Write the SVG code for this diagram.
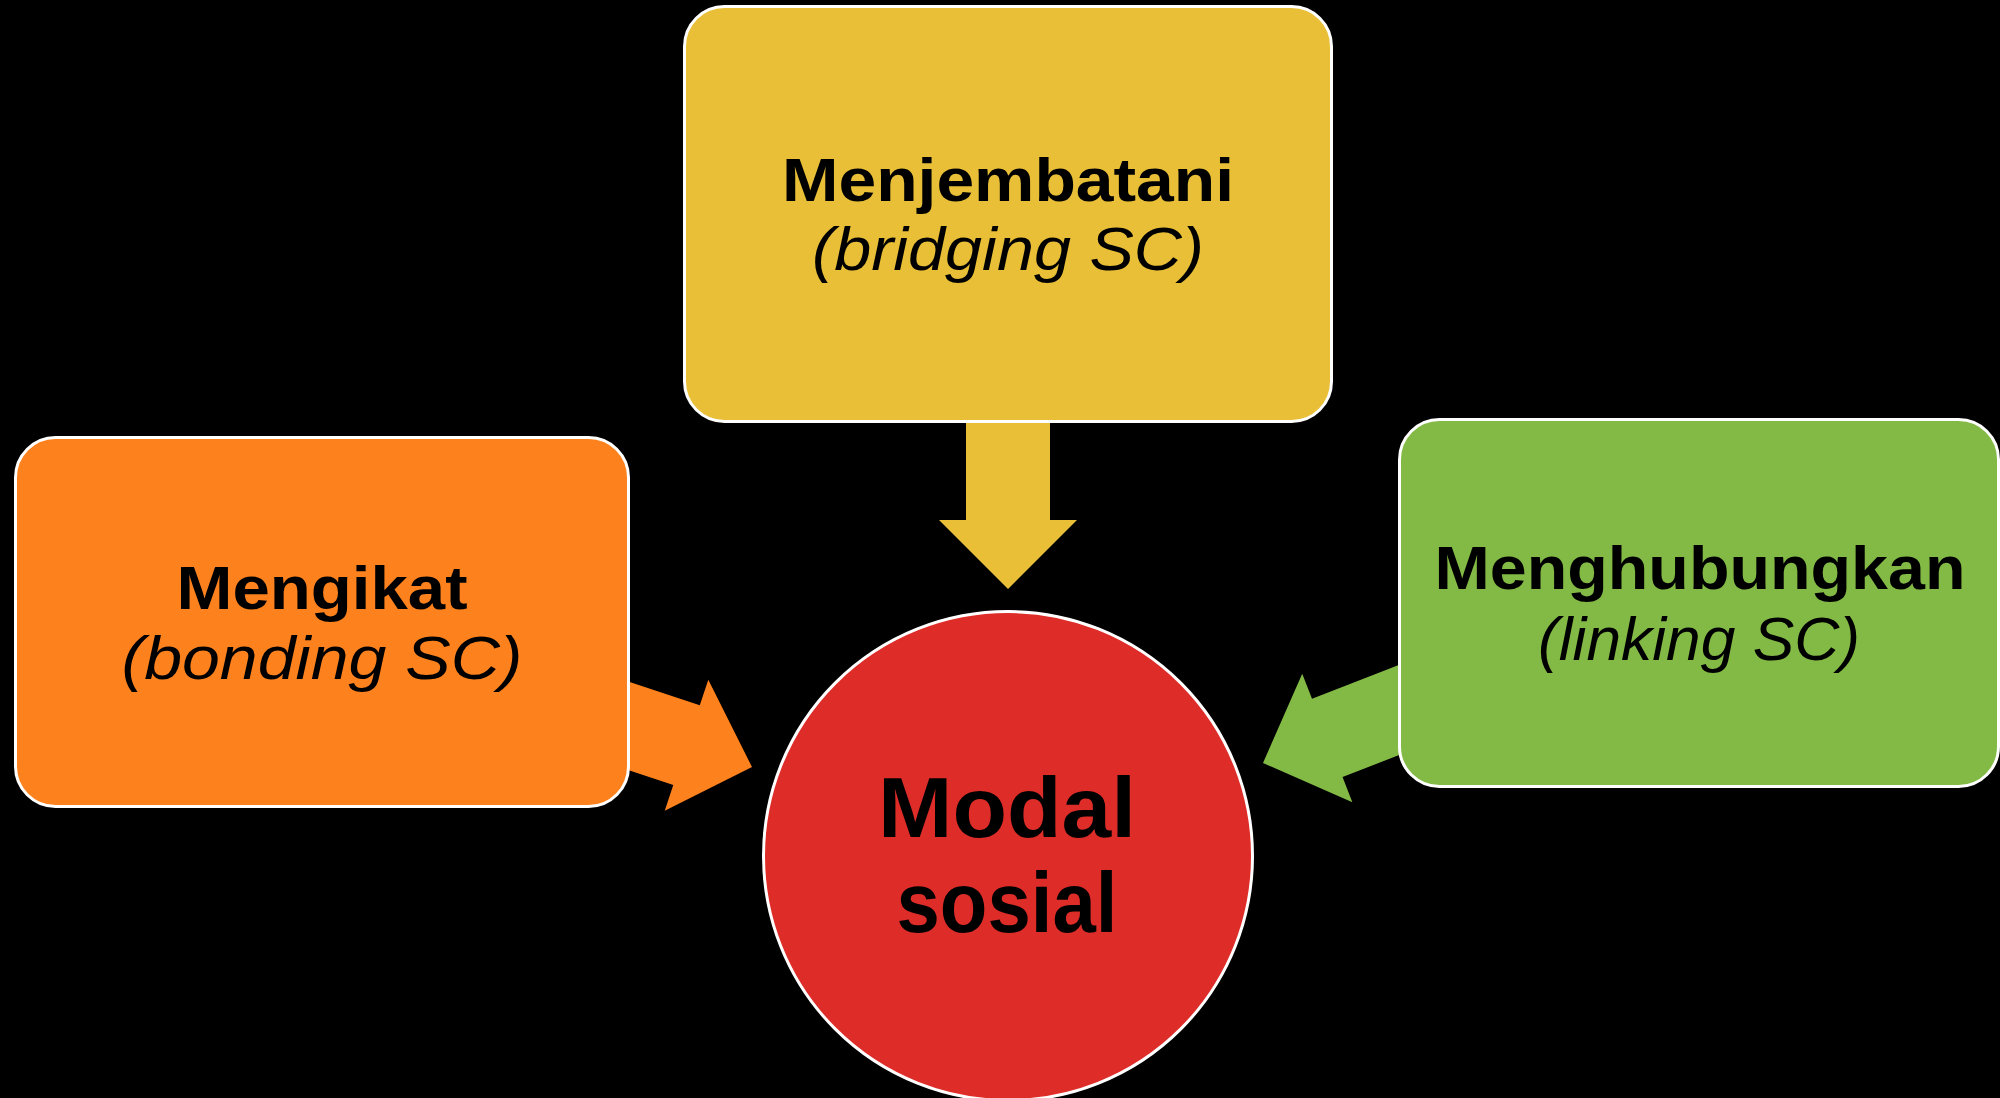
<svg xmlns="http://www.w3.org/2000/svg" width="2000" height="1098" viewBox="0 0 2000 1098">
<defs>
<style>
.box{stroke:#ffffff;stroke-width:3}
.t1{font-family:"Liberation Sans",Arial,sans-serif;font-weight:bold;font-size:62px;fill:#000;text-anchor:middle}
.t2{font-family:"Liberation Sans",Arial,sans-serif;font-style:italic;font-size:62px;fill:#000;text-anchor:middle}
.t3{font-family:"Liberation Sans",Arial,sans-serif;font-weight:bold;font-size:85px;fill:#000;text-anchor:middle}
</style>
<polygon id="arr" points="0,0 -69,-69 -69,-42 -220,-42 -220,42 -69,42 -69,69"/>
</defs>
<rect x="0" y="0" width="2000" height="1098" fill="#000"/>
<g id="connectors">
<use href="#arr" fill="#E8BF37" transform="translate(1008,589) rotate(90)"/>
<use href="#arr" fill="#FD821E" transform="translate(752,767) rotate(18.4)"/>
<use href="#arr" fill="#82BA45" transform="translate(1263,763) rotate(158.7)"/>
</g>
<g id="node-bridging">
<rect class="box" x="684.5" y="6.5" width="647" height="415" rx="40" fill="#E8BF37"/>
<text class="t1" x="1008" y="201" textLength="452" lengthAdjust="spacingAndGlyphs">Menjembatani</text>
<text class="t2" x="1008" y="270" textLength="392" lengthAdjust="spacingAndGlyphs">(bridging SC)</text>
</g>
<g id="node-bonding">
<rect class="box" x="15.5" y="437.5" width="613" height="369" rx="40" fill="#FD821E"/>
<text class="t1" x="322" y="609" textLength="291" lengthAdjust="spacingAndGlyphs">Mengikat</text>
<text class="t2" x="322" y="679" textLength="401" lengthAdjust="spacingAndGlyphs">(bonding SC)</text>
</g>
<g id="node-linking">
<rect class="box" x="1399.5" y="419.5" width="599" height="367" rx="40" fill="#82BA45"/>
<text class="t1" x="1700" y="589" textLength="531" lengthAdjust="spacingAndGlyphs">Menghubungkan</text>
<text class="t2" x="1699" y="660" textLength="322" lengthAdjust="spacingAndGlyphs">(linking SC)</text>
</g>
<g id="node-modal">
<circle class="box" cx="1008" cy="856" r="244.5" fill="#DE2D28"/>
<text class="t3" x="1007" y="837" textLength="258" lengthAdjust="spacingAndGlyphs">Modal</text>
<text class="t3" x="1007" y="932" textLength="221" lengthAdjust="spacingAndGlyphs">sosial</text>
</g>
</svg>
